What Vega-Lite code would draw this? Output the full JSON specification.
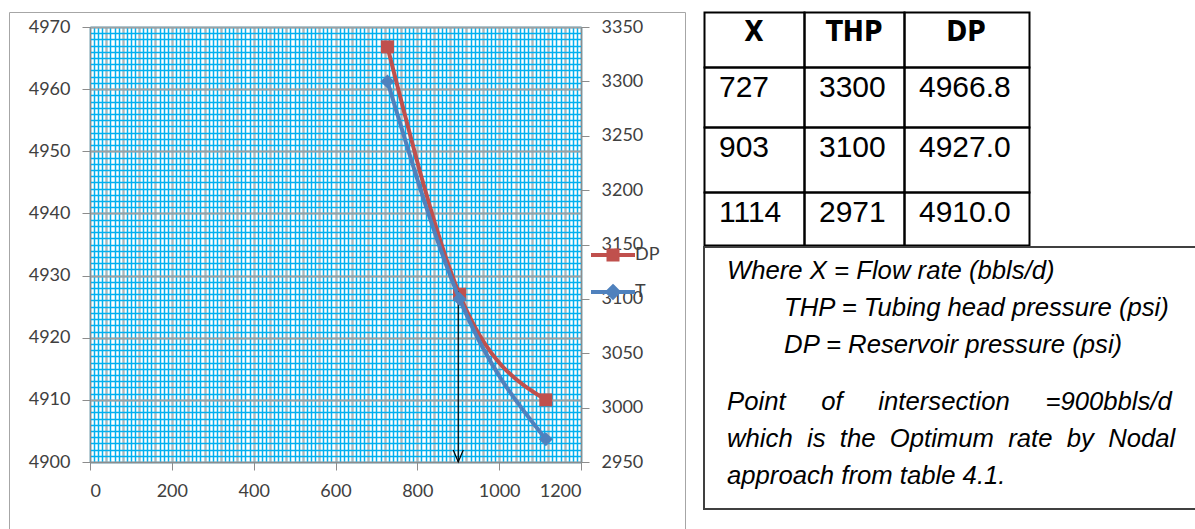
{
  "$schema": "https://vega.github.io/schema/vega-lite/v6.json",
  "background": "white",
  "padding": {"left": 8, "top": 11, "right": -3, "bottom": -2},
  "spacing": 17,
  "config": {
    "view": {"stroke": null},
    "axis": {"labelFont": "Lato", "labelFontSize": 18, "labelColor": "#404040", "format": "d"}
  },
  "datasets": {
    "curves": [
      {"X": 727, "DP": 4966.8, "THP": 3300},
      {"X": 903, "DP": 4927.0, "THP": 3100},
      {"X": 1114, "DP": 4910.0, "THP": 2971}
    ],
    "arrow": [{"X": 900, "from": 4927.5, "to": 4900}],
    "table": [
      {"r": 0, "c": 0, "t": "X"}, {"r": 0, "c": 1, "t": "THP"}, {"r": 0, "c": 2, "t": "DP"},
      {"r": 1, "c": 0, "t": "727"}, {"r": 1, "c": 1, "t": "3300"}, {"r": 1, "c": 2, "t": "4966.8"},
      {"r": 2, "c": 0, "t": "903"}, {"r": 2, "c": 1, "t": "3100"}, {"r": 2, "c": 2, "t": "4927.0"},
      {"r": 3, "c": 0, "t": "1114"}, {"r": 3, "c": 1, "t": "2971"}, {"r": 3, "c": 2, "t": "4910.0"}
    ],
    "notes": [
      {"para": 1, "t": "Where X = Flow rate (bbls/d)\n\u200b\u00a0\u00a0\u00a0\u00a0\u00a0\u00a0\u00a0\u00a0THP = Tubing head pressure (psi)\n\u200b\u00a0\u00a0\u00a0\u00a0\u00a0\u00a0\u00a0\u00a0DP = Reservoir pressure (psi)"},
      {"para": 2, "t": "Point\u00a0\u00a0\u00a0\u00a0\u00a0of\u00a0\u00a0\u00a0\u00a0\u00a0intersection\u00a0\u00a0\u00a0\u00a0\u00a0=900bbls/d\nwhich\u00a0\u00a0is\u00a0\u00a0the\u00a0\u00a0Optimum\u00a0\u00a0rate\u00a0\u00a0by\u00a0\u00a0Nodal\napproach from table 4.1."}
    ]
  },
  "hconcat": [
    {
      "width": 676,
      "height": 519,
      "view": {"stroke": "#A6A6A6", "strokeWidth": 1},
      "layer": [
        {
          "data": {"name": "curves"},
          "layer": [
            {
              "mark": {"type": "point", "opacity": 0},
              "encoding": {
                "x": {"field": "X", "type": "quantitative",
                  "scale": {"domain": [0, 1200], "range": [81, 572], "nice": false, "zero": false},
                  "axis": {"orient": "top", "grid": true, "gridColor": "#00B0F0", "gridWidth": 1.5, "labels": false, "ticks": false, "domain": false, "title": null,
                    "values": [0,10,20,30,40,50,60,70,80,90,100,110,120,130,140,150,160,170,180,190,200,210,220,230,240,250,260,270,280,290,300,310,320,330,340,350,360,370,380,390,400,410,420,430,440,450,460,470,480,490,500,510,520,530,540,550,560,570,580,590,600,610,620,630,640,650,660,670,680,690,700,710,720,730,740,750,760,770,780,790,800,810,820,830,840,850,860,870,880,890,900,910,920,930,940,950,960,970,980,990,1000,1010,1020,1030,1040,1050,1060,1070,1080,1090,1100,1110,1120,1130,1140,1150,1160,1170,1180,1190,1200]}},
                "y": {"field": "DP", "type": "quantitative",
                  "scale": {"domain": [4900, 4970], "range": [450, 15], "nice": false, "zero": false},
                  "axis": {"orient": "left", "grid": true, "gridColor": "#00B0F0", "gridWidth": 1.5, "labels": false, "ticks": false, "domain": false, "title": null,
                    "values": [4900,4901,4902,4903,4904,4905,4906,4907,4908,4909,4910,4911,4912,4913,4914,4915,4916,4917,4918,4919,4920,4921,4922,4923,4924,4925,4926,4927,4928,4929,4930,4931,4932,4933,4934,4935,4936,4937,4938,4939,4940,4941,4942,4943,4944,4945,4946,4947,4948,4949,4950,4951,4952,4953,4954,4955,4956,4957,4958,4959,4960,4961,4962,4963,4964,4965,4966,4967,4968,4969,4970]}}
              }
            },
            {
              "mark": {"type": "line", "interpolate": "monotone", "strokeWidth": 4},
              "encoding": {
                "x": {"field": "X", "type": "quantitative",
                  "scale": {"domain": [0, 1200], "range": [81, 572], "nice": false, "zero": false},
                  "axis": {"orient": "top", "grid": true, "gridColor": "#B4B4B4", "gridWidth": 2, "labels": false, "ticks": false, "domain": false, "title": null,
                    "values": [0,40,80,120,160,200,240,280,320,360,400,440,480,520,560,600,640,680,720,760,800,840,880,920,960,1000,1040,1080,1120,1160,1200]}},
                "y": {"field": "DP", "type": "quantitative",
                  "scale": {"domain": [4900, 4970], "range": [450, 15], "nice": false, "zero": false},
                  "axis": {"orient": "left", "offset": -81, "grid": true, "gridColor": "#A0A0A0", "gridWidth": 2, "title": null,
                    "values": [4900, 4910, 4920, 4930, 4940, 4950, 4960, 4970],
                    "tickSize": 8, "tickColor": "#8C8C8C", "domainColor": "#8C8C8C", "labelPadding": 12}},
                "color": {"datum": "DP",
                  "scale": {"domain": ["DP", "THP"], "range": ["#C0504D", "#4F81BD"]},
                  "legend": {"orient": "none", "legendX": 592, "legendY": 231, "title": null, "padding": 0,
                    "symbolSize": 400, "rowPadding": 10, "labelOffset": 10,
                    "labelFont": "Lato", "labelFontSize": 18, "labelColor": "#404040",
                    "labelExpr": "datum.label === 'THP' ? 'T' : datum.label",
                    "encode": {"symbols": {"update": {
                      "shape": {"signal": "datum.value === 'DP' ? 'M-2.2,0H2.2M-0.45,-0.45H0.45V0.45H-0.45Z' : 'M-2.2,0H2.2M0,-0.55L0.55,0L0,0.55L-0.55,0Z'"},
                      "fill": {"signal": "datum.value === 'DP' ? '#C0504D' : '#4F81BD'"},
                      "stroke": {"signal": "datum.value === 'DP' ? '#C0504D' : '#4F81BD'"},
                      "strokeWidth": {"value": 4},
                      "opacity": {"value": 1}
                    }}}}}
              }
            },
            {
              "mark": {"type": "point", "shape": "square", "filled": true, "size": 169, "color": "#C0504D", "opacity": 1},
              "encoding": {
                "x": {"field": "X", "type": "quantitative",
                  "scale": {"domain": [0, 1200], "range": [81, 572], "nice": false, "zero": false},
                  "axis": {"orient": "bottom", "offset": -69, "grid": false, "title": null,
                    "values": [0, 200, 400, 600, 800, 1000, 1200],
                    "tickSize": 8, "tickColor": "#8C8C8C", "domainColor": "#8C8C8C", "labelPadding": 12}},
                "y": {"field": "DP", "type": "quantitative", "axis": null}
              }
            },
            {
              "data": {"name": "arrow"},
              "mark": {"type": "rule", "color": "black", "strokeWidth": 1.2},
              "encoding": {
                "x": {"field": "X", "type": "quantitative", "axis": null},
                "y": {"field": "from", "type": "quantitative", "axis": null},
                "y2": {"field": "to"}
              }
            },
            {
              "data": {"name": "arrow"},
              "mark": {"type": "point", "shape": "M-1,-2.4L0,0L1,-2.4", "filled": false, "size": 100, "color": "black", "strokeWidth": 1.2, "opacity": 1},
              "encoding": {
                "x": {"field": "X", "type": "quantitative", "axis": null},
                "y": {"field": "to", "type": "quantitative", "axis": null}
              }
            }
          ],
          "resolve": {"axis": {"x": "independent", "y": "independent"}}
        },
        {
          "data": {"name": "curves"},
          "mark": {"type": "line", "interpolate": "monotone", "strokeWidth": 4},
          "encoding": {
            "x": {"field": "X", "type": "quantitative", "axis": null},
            "y": {"field": "THP", "type": "quantitative",
              "scale": {"domain": [2950, 3350], "range": [450, 15], "nice": false, "zero": false},
              "axis": {"orient": "right", "offset": -104, "grid": false, "title": null, "zindex": 1,
                "values": [2950, 3000, 3050, 3100, 3150, 3200, 3250, 3300, 3350],
                "tickSize": 8, "tickColor": "#8C8C8C", "domainColor": "#8C8C8C", "labelPadding": 12}},
            "color": {"datum": "THP"}
          }
        },
        {
          "data": {"name": "curves"},
          "mark": {"type": "point", "shape": "diamond", "filled": true, "size": 196, "color": "#4F81BD", "opacity": 1},
          "encoding": {
            "x": {"field": "X", "type": "quantitative", "axis": null},
            "y": {"field": "THP", "type": "quantitative",
              "scale": {"domain": [2950, 3350], "range": [450, 15], "nice": false, "zero": false},
              "axis": null}
          }
        }
      ],
      "resolve": {"scale": {"y": "independent"}, "axis": {"x": "independent", "y": "independent"}}
    },
    {
      "spacing": -2,
      "vconcat": [
        {
          "width": 325,
          "height": 233,
          "data": {"name": "table"},
          "layer": [
            {
              "mark": {"type": "rect", "fill": null, "stroke": "black", "strokeWidth": 2},
              "encoding": {
                "x": {"field": "c", "type": "quantitative", "bin": {"binned": true, "step": 1},
                  "scale": {"domain": [0, 1, 2, 3], "range": [0, 100, 200, 325], "nice": false, "zero": false}, "axis": null},
                "y": {"field": "r", "type": "quantitative", "bin": {"binned": true, "step": 1},
                  "scale": {"domain": [0, 1, 2, 3, 4], "range": [0, 55, 115, 180, 233], "nice": false, "zero": false}, "axis": null}
              }
            },
            {
              "transform": [{"filter": "datum.r == 0"}],
              "mark": {"type": "text", "font": "Liberation Sans Narrow, DejaVu Sans Condensed", "fontWeight": "bold", "fontSize": 28, "baseline": "top", "align": "center", "dy": 7, "color": "black"},
              "encoding": {
                "x": {"field": "c", "type": "quantitative",
                  "scale": {"domain": [0, 1, 2], "range": [50, 150, 262], "nice": false, "zero": false}, "axis": null},
                "y": {"field": "r", "type": "quantitative", "axis": null},
                "text": {"field": "t"}
              }
            },
            {
              "transform": [{"filter": "datum.r > 0"}],
              "mark": {"type": "text", "font": "Liberation Sans", "fontSize": 30, "baseline": "top", "align": "left", "dx": 15, "dy": 6, "color": "black"},
              "encoding": {
                "x": {"field": "c", "type": "quantitative",
                  "scale": {"domain": [0, 1, 2], "range": [0, 100, 200], "nice": false, "zero": false}, "axis": null},
                "y": {"field": "r", "type": "quantitative", "axis": null},
                "text": {"field": "t"}
              }
            }
          ],
          "resolve": {"scale": {"x": "independent"}}
        },
        {
          "width": 494,
          "height": 262,
          "view": {"stroke": "#404040", "strokeWidth": 2},
          "data": {"name": "notes"},
          "mark": {"type": "text", "font": "Liberation Sans", "fontStyle": "italic", "fontSize": 25.7, "align": "left", "baseline": "middle", "lineBreak": "\n", "lineHeight": 37, "dx": 23, "dy": -42, "color": "black"},
          "encoding": {
            "x": {"datum": 0, "type": "quantitative", "scale": {"domain": [0, 1]}, "axis": null},
            "y": {"field": "para", "type": "ordinal", "scale": {"paddingInner": 0, "paddingOuter": 0}, "axis": null},
            "text": {"field": "t"}
          }
        }
      ]
    }
  ]
}
